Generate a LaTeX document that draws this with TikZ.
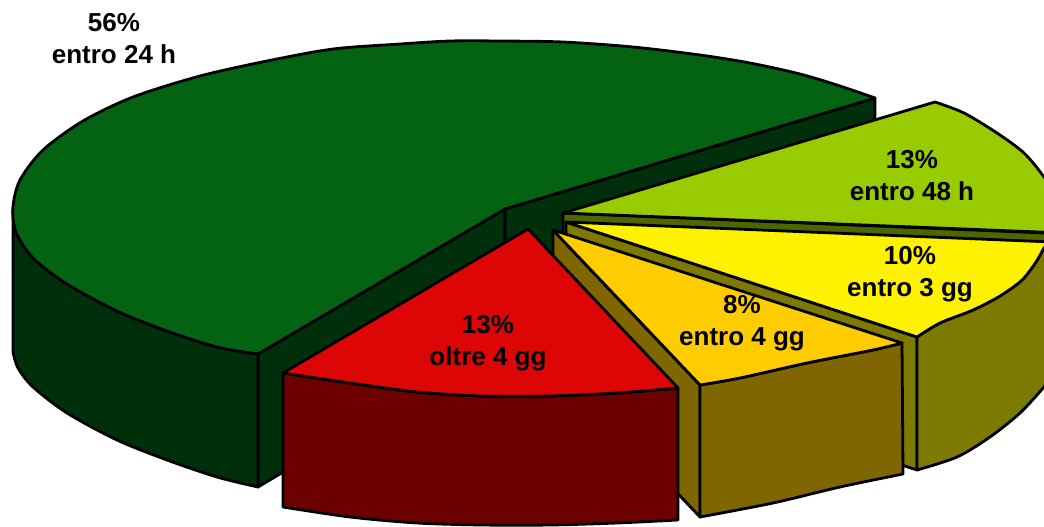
\documentclass[tikz,border=0pt]{standalone}
\usepackage{fontspec}
\setmainfont{Liberation Sans}
\definecolor{gtop}{RGB}{3,99,19}
\definecolor{gside}{RGB}{0,47,11}
\definecolor{ltop}{RGB}{153,204,0}
\definecolor{lside}{RGB}{76,102,0}
\definecolor{ytop}{RGB}{255,242,0}
\definecolor{yside}{RGB}{124,122,0}
\definecolor{otop}{RGB}{255,204,0}
\definecolor{oside}{RGB}{128,102,0}
\definecolor{rtop}{RGB}{221,6,6}
\definecolor{rside}{RGB}{108,0,0}
\tikzset{
  face/.style={draw=black, line width=1.4pt, line join=round},
  lbl/.style={align=center, font=\bfseries\fontsize{13}{16}\selectfont, text=black, inner sep=0pt}
}
\begin{document}
\begin{tikzpicture}[x=0.5pt,y=-0.5pt]
\useasboundingbox (0,0) rectangle (1044,526);
\clip (0,0) rectangle (1044,526);
% ---------- green 56% ----------
\path[face, fill=gside] (258,354) -- (505,209) -- (505,340) -- (258,487) -- cycle;
\path[face, fill=gside] (505,209) -- (875,98) -- (875,230) -- (505,340) -- cycle;
\path[face, fill=gside] plot[smooth] coordinates {(13,207) (16,232) (33,258) (67,284) (117,311) (167,331) (217,347) (258,354)}
  -- (258,487) -- plot[smooth] coordinates {(258,487) (217,477) (167,460) (117,440) (67,413) (33,387) (18,368) (13,352)} -- cycle;
\path[face, fill=gtop] (505,209) -- plot[smooth] coordinates {(258,354) (217,347) (167,331) (117,311) (67,284) (33,258) (16,232) (13,207) (20,180) (43,150) (83,121) (133,97) (200,76) (267,61) (333,49) (400,44) (450,41) (500,41) (563,42) (633,47) (700,55) (750,63) (800,74) (840,86) (875,98)} -- cycle;
% ---------- lime 13% ----------
\path[face, fill=lside] (563,213) -- (1070,234) -- (1070,300) -- (563,240) -- cycle;
\path[face, fill=ltop] (563,213) -- (935,102) -- plot[smooth] coordinates {(935,102) (964,113) (997,133) (1024,153) (1044,177) (1058,200) (1064,225)} -- (1064,233) -- cycle;
% ---------- yellow 10% ----------
\path[face, fill=yside] (566,222) -- (917,337) -- (917,470) -- (566,355) -- cycle;
\path[face, fill=yside] plot[smooth] coordinates {(917,337) (940,323) (973,310) (1000,296) (1022,280) (1036,262) (1044,248) (1050,240)}
  -- (1066,360) -- plot[smooth] coordinates {(1066,360) (1044,387) (1020,413) (990,437) (957,457) (917,470)} -- cycle;
\path[face, fill=ytop] (566,222) -- (1052,242) -- plot[smooth] coordinates {(1050,240) (1044,248) (1036,262) (1022,280) (1000,296) (973,310) (940,323) (917,337)} -- cycle;
% ---------- orange 8% ----------
\path[face, fill=oside] (553,230) -- (700,385) -- (700,517) -- (553,362) -- cycle;
\path[face, fill=oside] plot[smooth] coordinates {(700,385) (740,378) (807,363) (873,350) (902,343)}
  -- (903,474) -- plot[smooth] coordinates {(903,474) (840,487) (773,503) (700,517)} -- cycle;
\path[face, fill=otop] (553,230) -- (902,343) -- plot[smooth] coordinates {(902,343) (873,350) (807,363) (740,378) (700,385)} -- cycle;
% ---------- red 13% ----------
\path[face, fill=rside] plot[smooth] coordinates {(283,373) (350,383) (417,392) (483,396) (550,396) (617,393) (678,388)}
  -- (678,520) -- plot[smooth] coordinates {(678,520) (617,523) (550,525) (483,525) (417,523) (350,517) (283,507)} -- cycle;
\path[face, fill=rtop] (528,229) -- (283,373) -- plot[smooth] coordinates {(283,373) (350,383) (417,392) (483,396) (550,396) (617,393) (678,388)} -- cycle;
% ---------- labels ----------
\node[lbl] (l56) at (114,39) {56\%\\entro 24 h};
\node[lbl] (l13a) at (912,176) {13\%\\entro 48 h};
\node[lbl] (l10) at (910,274) {10\%\\entro 3 gg};
\node[lbl] (l8) at (742,323) {8\%\\entro 4 gg};
\node[lbl] (l13b) at (488,343) {13\%\\oltre 4 gg};
\end{tikzpicture}
\end{document}
